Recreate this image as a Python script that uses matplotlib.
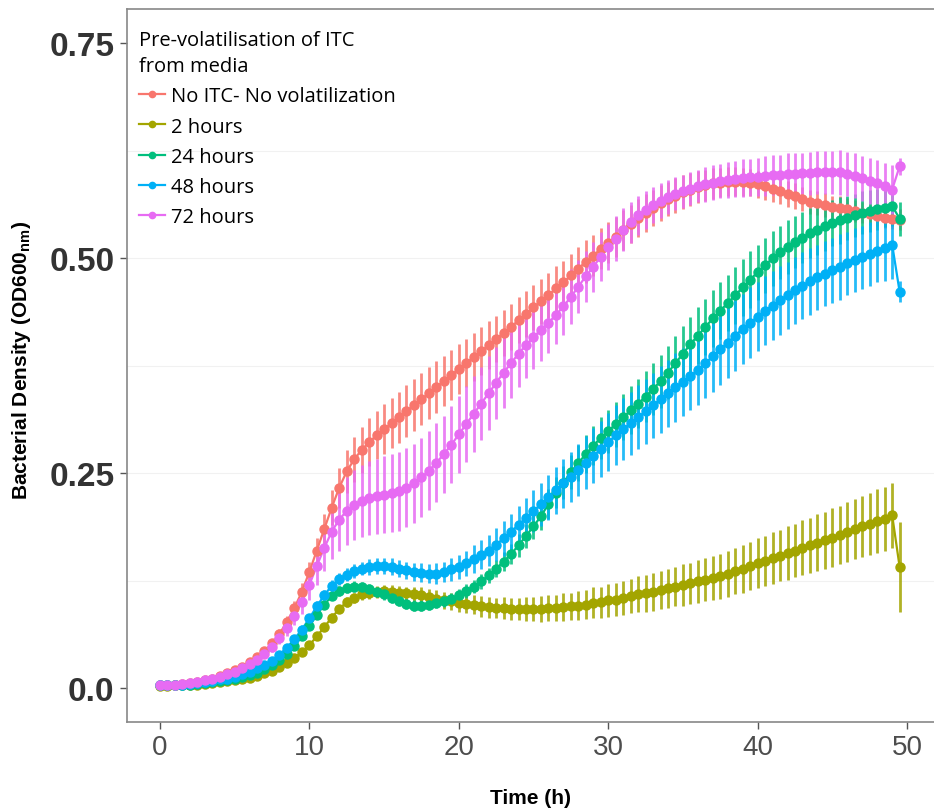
import numpy as np
import matplotlib
matplotlib.use("Agg")
import matplotlib.pyplot as plt
from matplotlib.lines import Line2D

# ---------------- data ----------------
time_h = np.arange(0, 50, 0.5)

series_labels = ["No ITC- No volatilization", "2 hours", "24 hours", "48 hours", "72 hours"]
series_colors = ["#F8766D", "#A3A500", "#00BF7D", "#00B0F6", "#E76BF3"]

no_itc = [0.003,0.003,0.004,0.005,0.006,0.007,0.009,0.011,0.014,0.017,
          0.021,0.025,0.030,0.036,0.043,0.052,0.063,0.077,0.093,0.112,
          0.135,0.160,0.185,0.210,0.233,0.252,0.266,0.277,0.286,0.294,
          0.301,0.308,0.315,0.322,0.329,0.336,0.343,0.350,0.357,0.364,
          0.371,0.378,0.385,0.392,0.399,0.406,0.413,0.420,0.428,0.435,
          0.443,0.450,0.457,0.465,0.472,0.480,0.488,0.496,0.503,0.511,
          0.518,0.525,0.533,0.540,0.547,0.553,0.559,0.564,0.569,0.573,
          0.577,0.580,0.583,0.585,0.587,0.588,0.589,0.589,0.589,0.588,
          0.586,0.584,0.581,0.578,0.575,0.572,0.569,0.566,0.564,0.562,
          0.560,0.559,0.557,0.555,0.553,0.551,0.549,0.547,0.546,0.545]
no_itc_err = [0.001,0.001,0.001,0.001,0.001,0.002,0.002,0.002,0.002,0.002,0.003,0.003,0.003,0.004,
              0.004,0.005,0.006,0.007,0.008,0.010,
              0.012,0.014,0.017,0.020,0.023,0.025,
              0.026,0.027,0.028,0.028,0.029,0.029,0.030,0.030,0.030,0.030,
              0.030,0.030,0.029,0.029,0.029,0.028,0.028,0.028,0.028,0.027,
              0.027,0.027,0.027,0.027,0.026,0.026,0.026,0.026,0.025,0.025,
              0.025,0.025,0.024,0.024,0.024,0.023,0.023,0.022,0.022,0.022,
              0.021,0.021,0.020,0.020,
              0.020,0.019,0.019,0.018,0.018,0.017,0.017,0.017,0.016,0.016,
              0.016,0.016,0.015,0.015,0.015,0.015,0.014,0.014,0.014,0.014,
              0.013,0.013,0.013,0.013,0.012,0.012,0.012,0.012,0.012,0.012]

h2 = [0.002,0.002,0.003,0.003,0.004,0.004,0.005,0.006,0.007,0.008,
      0.009,0.010,0.012,0.014,0.017,0.020,0.024,0.029,0.035,0.042,
      0.050,0.060,0.071,0.082,0.092,0.100,0.105,0.109,0.111,0.112,
      0.113,0.112,0.111,0.110,0.109,0.108,0.106,0.104,0.102,0.101,
      0.099,0.098,0.097,0.095,0.094,0.093,0.093,0.092,0.092,0.092,
      0.092,0.092,0.093,0.093,0.094,0.095,0.096,0.097,0.099,0.100,
      0.102,0.103,0.105,0.107,0.109,0.110,0.112,0.114,0.116,0.118,
      0.120,0.122,0.124,0.126,0.128,0.130,0.133,0.136,0.139,0.142,
      0.145,0.148,0.151,0.154,0.157,0.160,0.163,0.166,0.169,0.172,
      0.175,0.178,0.182,0.185,0.188,0.191,0.194,0.197,0.201,0.141]
h2_err = [0.001,0.001,0.001,0.001,0.001,0.001,0.001,0.001,0.001,0.001,0.001,0.001,0.001,0.001,
          0.001,0.002,0.002,0.002,0.003,0.003,
          0.003,0.004,0.004,0.005,0.005,0.006,
          0.006,0.006,0.007,0.007,0.007,0.008,0.008,0.008,0.009,0.009,
          0.009,0.010,0.010,0.010,0.011,0.011,0.011,0.012,0.012,0.012,
          0.013,0.013,0.013,0.014,0.014,0.015,0.015,0.015,0.016,0.016,
          0.017,0.017,0.018,0.018,0.019,0.019,0.020,0.020,0.021,0.021,
          0.022,0.022,0.023,0.023,0.024,0.024,0.025,0.025,0.026,0.026,
          0.027,0.027,0.028,0.028,0.029,0.029,0.030,0.030,0.031,0.031,
          0.032,0.032,0.033,0.033,0.034,0.034,0.035,0.035,0.036,0.036,
          0.037,0.037,0.038,0.052]

h24 = [0.003,0.003,0.003,0.004,0.004,0.005,0.006,0.007,0.008,0.009,
       0.011,0.013,0.015,0.018,0.022,0.027,0.033,0.040,0.049,0.060,
       0.072,0.085,0.097,0.107,0.113,0.116,0.118,0.117,0.115,0.112,
       0.109,0.105,0.101,0.098,0.096,0.096,0.097,0.099,0.101,0.104,
       0.108,0.113,0.118,0.124,0.131,0.139,0.147,0.156,0.166,0.177,
       0.188,0.200,0.214,0.227,0.239,0.251,0.262,0.272,0.282,0.291,
       0.299,0.307,0.315,0.323,0.331,0.339,0.348,0.357,0.367,0.378,
       0.389,0.400,0.410,0.420,0.430,0.439,0.448,0.457,0.466,0.475,
       0.484,0.492,0.500,0.507,0.513,0.519,0.524,0.529,0.533,0.537,
       0.541,0.544,0.547,0.550,0.553,0.555,0.557,0.559,0.561,0.546]
h24_err = [0.001,0.001,0.001,0.001,0.001,0.001,0.001,0.002,0.002,0.002,0.002,0.002,0.002,0.002,
           0.002,0.002,0.003,0.003,0.003,0.004,
           0.004,0.005,0.005,0.005,0.006,0.006,
           0.006,0.006,0.006,0.006,0.006,0.006,0.006,0.006,0.006,0.006,
           0.006,0.006,0.007,0.007,0.007,0.008,0.008,0.009,0.009,0.010,
           0.011,0.012,0.013,0.014,0.015,0.016,0.017,0.018,0.019,0.020,
           0.021,0.022,0.023,0.024,0.025,0.026,0.027,0.028,0.029,0.030,
           0.030,0.031,0.031,0.032,0.032,0.032,0.033,0.033,0.033,0.033,
           0.033,0.033,0.033,0.033,0.032,0.032,0.032,0.031,0.031,0.030,
           0.030,0.029,0.029,0.028,0.027,0.027,0.026,0.025,0.025,0.024,
           0.024,0.023,0.023,0.020]

h48 = [0.003,0.003,0.004,0.004,0.005,0.006,0.007,0.008,0.010,0.011,
       0.013,0.016,0.019,0.023,0.027,0.032,0.039,0.047,0.057,0.068,
       0.081,0.095,0.108,0.119,0.127,0.132,0.136,0.139,0.141,0.142,
       0.142,0.141,0.139,0.137,0.135,0.134,0.133,0.133,0.135,0.138,
       0.141,0.145,0.150,0.155,0.160,0.167,0.174,0.182,0.190,0.198,
       0.206,0.214,0.222,0.230,0.238,0.246,0.254,0.262,0.270,0.278,
       0.286,0.294,0.301,0.308,0.315,0.322,0.329,0.336,0.343,0.350,
       0.356,0.363,0.370,0.378,0.386,0.394,0.402,0.410,0.418,0.425,
       0.432,0.439,0.445,0.451,0.457,0.463,0.468,0.473,0.478,0.482,
       0.486,0.490,0.494,0.498,0.501,0.505,0.509,0.512,0.516,0.461]
h48_err = [0.001,0.001,0.001,0.001,0.001,0.001,0.001,0.002,0.002,0.002,0.002,0.002,0.002,0.002,
           0.002,0.003,0.003,0.004,0.004,0.005,
           0.005,0.006,0.006,0.007,0.007,0.008,
           0.008,0.008,0.009,0.009,0.009,0.010,0.010,0.010,0.011,0.011,
           0.011,0.012,0.012,0.013,0.014,0.015,0.016,0.017,0.018,0.019,
           0.020,0.021,0.022,0.023,0.024,0.025,0.026,0.027,0.028,0.029,
           0.030,0.031,0.032,0.033,0.034,0.035,0.036,0.037,0.037,0.038,
           0.038,0.039,0.039,0.040,0.040,0.040,0.041,0.041,0.041,0.041,
           0.041,0.041,0.041,0.041,0.040,0.040,0.040,0.040,0.039,0.039,
           0.039,0.039,0.038,0.038,0.038,0.038,0.037,0.037,0.037,0.037,
           0.037,0.038,0.040,0.012]

h72 = [0.003,0.004,0.004,0.005,0.006,0.007,0.009,0.011,0.013,0.016,
       0.019,0.023,0.028,0.033,0.040,0.048,0.058,0.070,0.084,0.100,
       0.120,0.142,0.163,0.182,0.196,0.206,0.213,0.218,0.221,0.223,
       0.225,0.227,0.229,0.233,0.238,0.245,0.253,0.262,0.272,0.283,
       0.295,0.307,0.319,0.331,0.343,0.355,0.367,0.378,0.389,0.399,
       0.408,0.417,0.425,0.434,0.444,0.455,0.467,0.479,0.490,0.502,
       0.513,0.523,0.533,0.542,0.550,0.556,0.562,0.567,0.571,0.575,
       0.578,0.581,0.584,0.586,0.588,0.590,0.591,0.592,0.593,0.594,
       0.595,0.596,0.597,0.597,0.598,0.598,0.599,0.599,0.600,0.600,
       0.600,0.600,0.598,0.596,0.593,0.590,0.587,0.584,0.580,0.607]
h72_err = [0.001,0.001,0.001,0.001,0.001,0.002,0.002,0.002,0.002,0.002,0.003,0.003,0.004,0.004,
           0.005,0.006,0.007,0.009,0.011,0.014,
           0.018,0.022,0.027,0.032,0.036,0.039,
           0.041,0.042,0.043,0.044,0.045,0.045,0.046,0.046,0.046,0.046,
           0.046,0.046,0.045,0.045,0.045,0.044,0.044,0.043,0.043,0.042,
           0.041,0.040,0.039,0.038,0.037,0.036,0.035,0.034,0.033,0.032,
           0.031,0.030,0.029,0.028,0.027,0.026,0.025,0.024,0.023,0.022,
           0.021,0.020,0.020,0.019,0.019,0.019,0.019,0.020,0.020,0.020,
           0.021,0.021,0.022,0.022,0.022,0.023,0.023,0.023,0.024,0.024,
           0.024,0.025,0.025,0.025,0.025,0.026,0.026,0.026,0.026,0.027,
           0.027,0.027,0.028,0.010]

x_ticks = [0, 10, 20, 30, 40, 50]
y_ticks = [0.0, 0.25, 0.50, 0.75]
y_tick_labels = ["0.0", "0.25", "0.50", "0.75"]

means = [no_itc, h2, h24, h48, h72]
errs = [no_itc_err, h2_err, h24_err, h48_err, h72_err]

# ---------------- figure ----------------
fig = plt.figure(figsize=(9.34, 8.12), dpi=100)
ax = fig.add_axes([127/934, 1-723/812, 1-127/934, (723-10)/812])

for m, e, c in zip(means, errs, series_colors):
    m = np.asarray(m); e = np.asarray(e)
    ax.vlines(time_h, m - e, m + e, color=c, lw=2.0, alpha=0.85, zorder=2)
for m, c in zip(means, series_colors):
    ax.plot(time_h, m, color=c, lw=1.6, zorder=3)
for m, c in zip(means, series_colors):
    ax.plot(time_h, m, ls="none", marker="o", ms=6.5, color=c, mec=c, zorder=4)

ax.set_xlim(-2.2, 51.8)
ax.set_ylim(-0.0395, 0.79)
ax.set_xticks(x_ticks)
ax.set_xticklabels([str(v) for v in x_ticks], fontsize=20, family="Liberation Sans", color="#4d4d4d")
ax.set_yticks(y_ticks)
ax.set_yticklabels(y_tick_labels, fontsize=24, family="Liberation Sans", fontweight="bold", color="#333333")
ax.tick_params(axis="both", length=5, width=1, color="#555555", pad=4)

for y in [0.125, 0.25, 0.375, 0.5, 0.625]:
    ax.axhline(y, color="#f1f1f1", lw=0.8, zorder=0)

for s in ["left", "bottom", "top"]:
    ax.spines[s].set_color("#888888")
    ax.spines[s].set_linewidth(1.2)
ax.spines["right"].set_visible(False)

ax.set_xlabel("Time (h)", fontsize=15, family="Liberation Sans", fontweight="bold")
ax.xaxis.set_label_coords(0.5, -0.092)
ax.set_ylabel("Bacterial Density (OD600$_{\\mathregular{nm}}$)", fontsize=15, family="Liberation Sans",
              fontweight="bold")
ax.yaxis.set_label_coords(-0.117, 0.509)

handles = [Line2D([0], [0], color=c, lw=1.6, marker="o", ms=4.5) for c in series_colors]
leg = ax.legend(handles, series_labels, title="Pre-volatilisation of ITC\nfrom media",
                loc="upper left", bbox_to_anchor=(0.0, 0.988), frameon=False,
                prop={"family": "Open Sans", "size": 14.5},
                title_fontproperties={"family": "Open Sans", "size": 14.5},
                handlelength=1.3, handletextpad=0.3, labelspacing=0.5, alignment="left",
                borderaxespad=0.2)
leg.get_title().set_linespacing(1.45)

fig.savefig("out.png", dpi=100)
